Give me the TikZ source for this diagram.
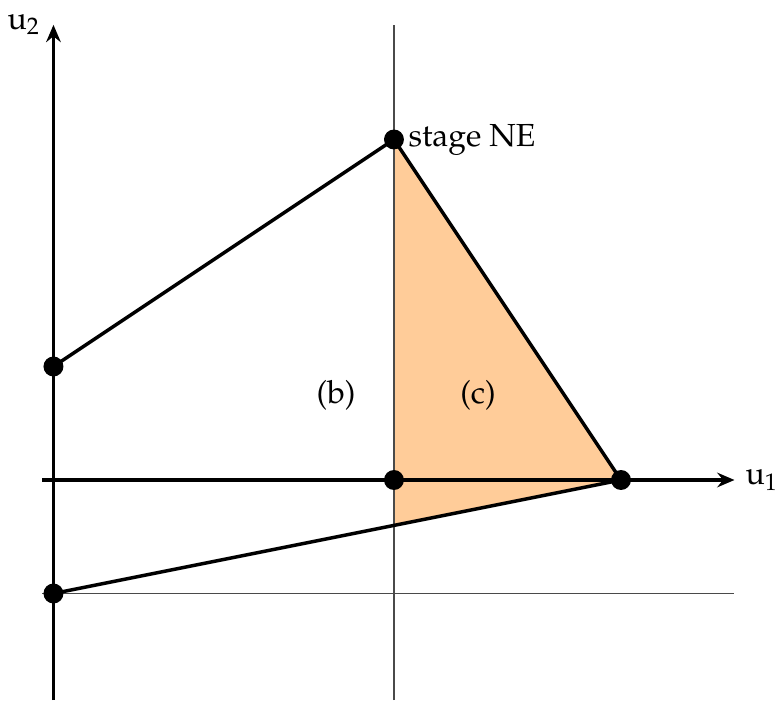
\documentclass[tikz,border=0pt]{standalone}
\usepackage[T1]{fontenc}
\usepackage{mathpazo}
\usepackage{tikz}
\usetikzlibrary{arrows.meta,positioning,backgrounds}
\definecolor{peach}{HTML}{FFCC99}
\definecolor{guidegray}{HTML}{4A4A4A}
\tikzset{
  axisline/.style={
    -{Stealth[length=6.5pt, width=5.5pt, inset=2.2pt]}, line width=1.4pt
  },
  guideline/.style={draw=guidegray, line width=0.5pt},
  edgeline/.style={line width=1.3pt, line join=round},
  dot/.style={circle, fill=black, inner sep=0pt, minimum size=7.5pt},
  regionfill/.style={fill=peach},
  every node/.append style={font=\large},
}

\begin{document}
\begin{tikzpicture}[x=1.5cm, y=1.5cm]
  \useasboundingbox (-3.471,-1.956) rectangle (3.357,4.229);
  % corner points
  \coordinate (origin) at (0,0);
  \coordinate (ne) at (0,3);
  \coordinate (right) at (2,0);
  \coordinate (upleft) at (-3,1);
  \coordinate (lowleft) at (-3,-1);
  \coordinate (cut) at (0,-0.4);
  \coordinate (xstart) at (-3.1,0);
  \coordinate (xend) at (3.0,0);
  \coordinate (ystart) at (-3,-1.94);
  \coordinate (yend) at (-3,4.01);
  \coordinate (vtop) at (0,4.01);
  \coordinate (vbot) at (0,-1.94);
  \coordinate (hleft) at (-3.1,-1);
  \coordinate (hright) at (3.0,-1);
  \fill[regionfill] (ne) -- (right) -- (cut) -- cycle;
  \draw[guideline] (vbot) -- (vtop);
  \draw[guideline] (hleft) -- (hright);
  \draw[axisline] (xstart) -- (xend) node[right=3pt, inner sep=0.5pt] (u1) {$\mathrm{u}_1$};
  \draw[axisline] (ystart) -- (yend) node[left=1pt] (u2) {$\mathrm{u}_2$};
  \draw[edgeline] (upleft) -- (ne) -- (right) -- (lowleft);
  \node[dot] (pne) at (ne) {};
  \node[dot] (pright) at (right) {};
  \node[dot] (porigin) at (origin) {};
  \node[dot] (pupleft) at (upleft) {};
  \node[dot] (plowleft) at (lowleft) {};
  \node[right=-2pt of pne] (stage) {stage NE};
  \node at (-0.51,0.75) (regb) {(b)};
  \node at (0.74,0.75) (regc) {(c)};
\end{tikzpicture}
\end{document}
